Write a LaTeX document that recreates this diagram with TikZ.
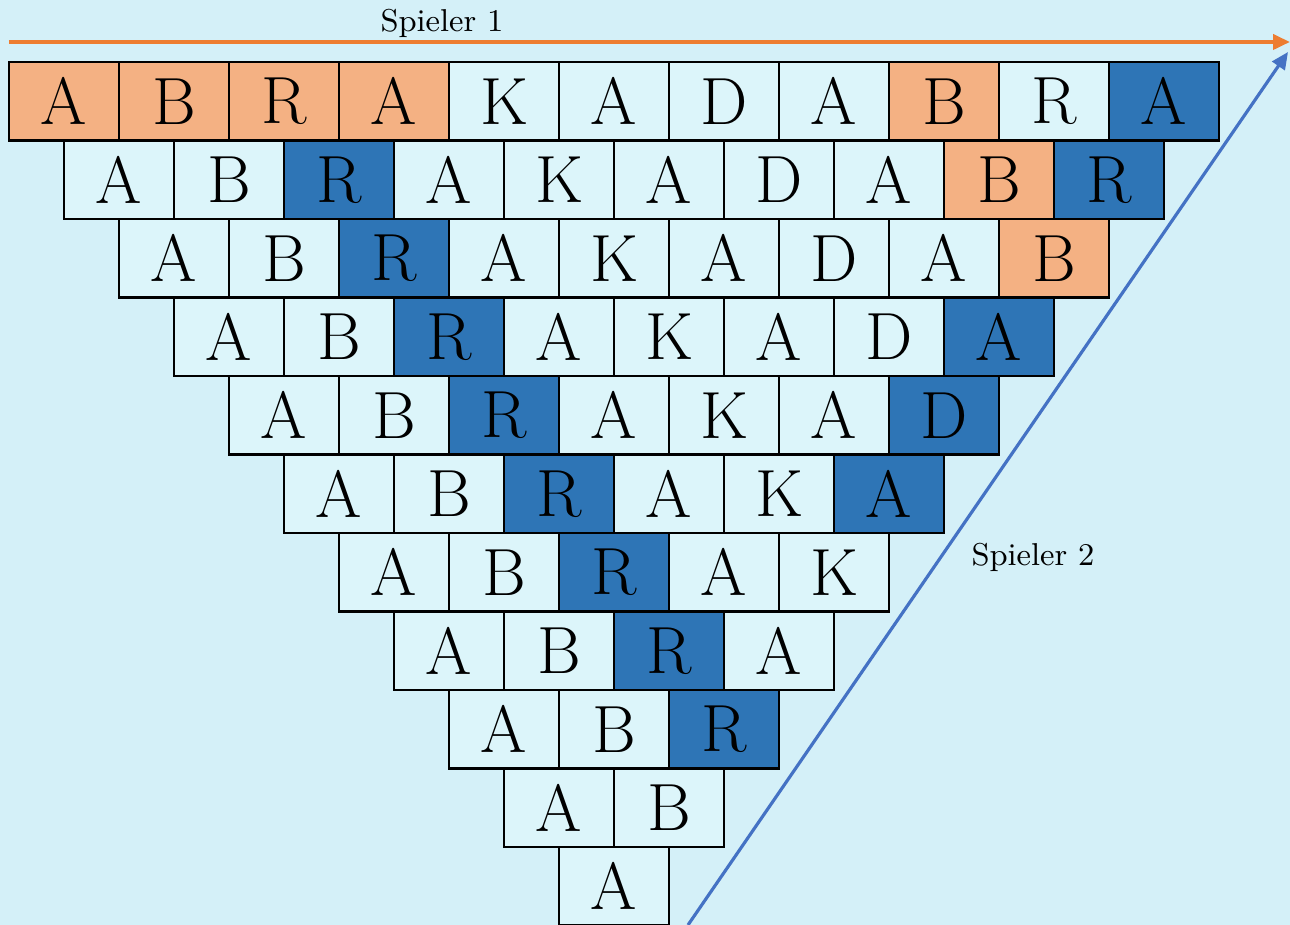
\documentclass[tikz,border=0pt]{standalone}
\usepackage{tikz}
\usepackage{xcolor}
\usetikzlibrary{arrows.meta, positioning}
\definecolor{bgblue}{RGB}{212,240,248}
\definecolor{pale}{RGB}{220,245,250}
\definecolor{orng}{RGB}{244,177,131}
\definecolor{blu}{RGB}{46,117,182}
\definecolor{arroworange}{RGB}{237,125,49}
\definecolor{arrowblue}{RGB}{68,114,196}
\tikzset{
  cell/.style={draw, line width=0.6pt, minimum width=1.1cm, minimum height=0.785cm,
    inner sep=0pt, font=\fontsize{19}{19}\selectfont},
  player/.style={font=\fontsize{9}{11}\selectfont}
}

\begin{document}
\begin{tikzpicture}
            \fill[bgblue] (0,0) rectangle (12.9,-9.25);
            \useasboundingbox (0,0) rectangle (12.9,-9.25);
            \clip (0,0) rectangle (12.9,-9.25);

            % Triangle of tiles
            \foreach \row [count=\r from 0] in {
                {A/orng,B/orng,R/orng,A/orng,K/pale,A/pale,D/pale,A/pale,B/orng,R/pale,A/blu},
                {A/pale,B/pale,R/blu,A/pale,K/pale,A/pale,D/pale,A/pale,B/orng,R/blu},
                {A/pale,B/pale,R/blu,A/pale,K/pale,A/pale,D/pale,A/pale,B/orng},
                {A/pale,B/pale,R/blu,A/pale,K/pale,A/pale,D/pale,A/blu},
                {A/pale,B/pale,R/blu,A/pale,K/pale,A/pale,D/blu},
                {A/pale,B/pale,R/blu,A/pale,K/pale,A/blu},
                {A/pale,B/pale,R/blu,A/pale,K/pale},
                {A/pale,B/pale,R/blu,A/pale},
                {A/pale,B/pale,R/blu},
                {A/pale,B/pale},
                {A/pale}}{
                \foreach \l/\c [count=\j from 0] in \row {
                    \node[cell, fill=\c] (c\r-\j) at ({0.64+0.55*\r+1.1*\j}, {-1.0125-0.785*\r}) {\l};
                }
            }

            % Player 1
            \coordinate (p1start) at (0.09,-0.42);
            \coordinate (p1end) at (12.9,-0.42);
            \draw[arroworange, line width=1.1pt, -{Triangle[length=0.17cm, width=0.15cm]}] (p1start) -- (p1end);
            \node[player] (lbl1) at (4.42,-0.23) {Spieler 1};

            % Player 2
            \coordinate (p2start) at (6.88,-9.25);
            \coordinate (p2end) at (12.88,-0.52);
            \draw[arrowblue, line width=0.9pt, -{Triangle[length=0.17cm, width=0.15cm]}] (p2start) -- (p2end);
            \node[player] (lbl2) at (10.33,-5.57) {Spieler 2};
        \end{tikzpicture}
\end{document}
